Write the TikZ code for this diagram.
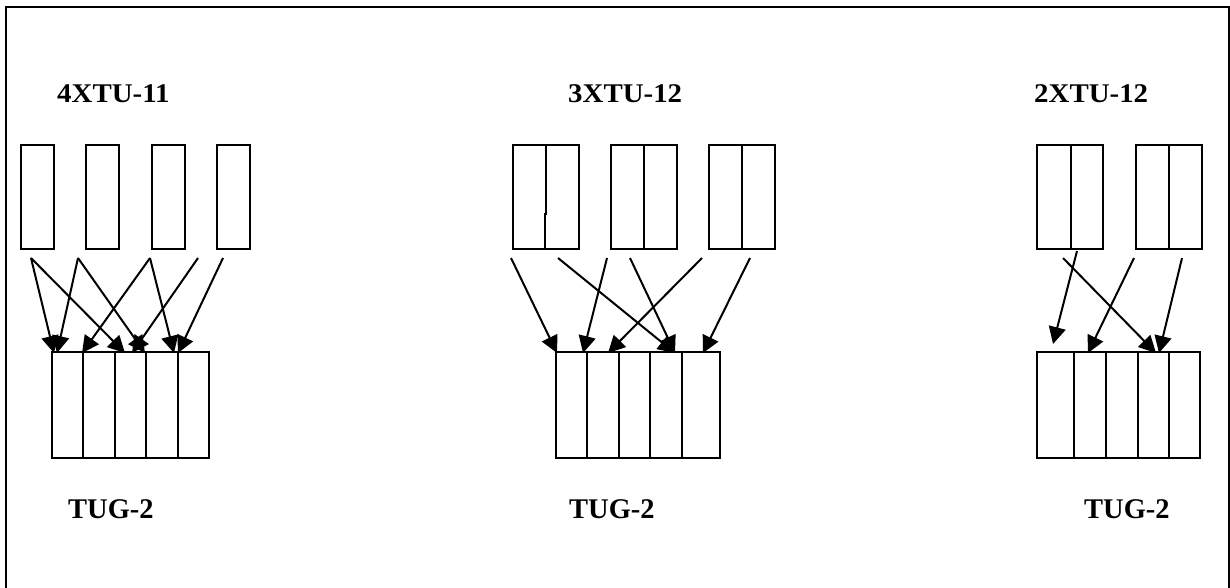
\documentclass[tikz,border=0pt]{standalone}
\usepackage{fontspec}
\setmainfont{Liberation Serif}
\usetikzlibrary{arrows.meta}
\begin{document}
\begin{tikzpicture}[x=1pt,y=-1pt,
  frameline/.style={line width=2.2pt},
  cellbox/.style={draw, line width=2pt, rectangle, inner sep=0pt, outer sep=0pt, anchor=north west},
  divider/.style={line width=2pt},
  conn/.style={line width=2pt, -{Triangle[length=17pt,width=17pt]}},
  toplbl/.style={font=\fontsize{27}{30}\selectfont\bfseries, anchor=base west, inner sep=0pt, xscale=1.07},
  botlbl/.style={font=\fontsize{28.5}{31}\selectfont\bfseries, anchor=base west, inner sep=0pt}]
\useasboundingbox (0,0) rectangle (1230,587);
% frame (open at the bottom)
\draw[frameline] (6,588) -- (6,7) -- (1229,7) -- (1229,588);

% labels
\node[toplbl] (l1) at (57,102) {4XTU-11};
\node[toplbl] (l2) at (568,102) {3XTU-12};
\node[toplbl] (l3) at (1034,102) {2XTU-12};
\node[botlbl] (b1) at (68,518) {TUG-2};
\node[botlbl] (b2) at (569,518) {TUG-2};
\node[botlbl] (b3) at (1084,518) {TUG-2};

% ---------- group 1 ----------
\node[cellbox, minimum width=33pt, minimum height=104pt] (a1) at (21,145) {};
\node[cellbox, minimum width=33pt, minimum height=104pt] (a2) at (86,145) {};
\node[cellbox, minimum width=33pt, minimum height=104pt] (a3) at (152,145) {};
\node[cellbox, minimum width=33pt, minimum height=104pt] (a4) at (217,145) {};
\node[cellbox, minimum width=157pt, minimum height=106pt] (t1) at (52,352) {};
\foreach \x in {83,115,146,178} \draw[divider] (\x,352) -- (\x,458);

\coordinate (p1) at (31,258);
\coordinate (p2) at (78,258);
\coordinate (p3) at (150,258);
\coordinate (p4) at (198,258);
\coordinate (p5) at (223,258);
\coordinate (q1) at (54,353);
\coordinate (q2) at (57,353);
\coordinate (q3) at (82,353);
\coordinate (q4) at (125,353);
\coordinate (q5) at (132,353);
\coordinate (q6) at (145,353);
\coordinate (q7) at (174,353);
\coordinate (q8) at (178,353);
\draw[conn] (p1) -- (q1);
\draw[conn] (p1) -- (q4);
\draw[conn] (p2) -- (q2);
\draw[conn] (p2) -- (q6);
\draw[conn] (p3) -- (q3);
\draw[conn] (p3) -- (q7);
\draw[conn] (p4) -- (q5);
\draw[conn] (p5) -- (q8);

% ---------- group 2 ----------
\node[cellbox, minimum width=66pt, minimum height=104pt] (c1) at (513,145) {};
\node[cellbox, minimum width=66pt, minimum height=104pt] (c2) at (611,145) {};
\node[cellbox, minimum width=66pt, minimum height=104pt] (c3) at (709,145) {};
\draw[divider] (546,145) -- (546,214) -- (544.5,214) -- (544.5,249);
\draw[divider] (c2.north) -- (c2.south);
\draw[divider] (c3.north) -- (c3.south);
\node[cellbox, minimum width=164pt, minimum height=106pt] (t2) at (556,352) {};
\foreach \x in {587,619,650,682} \draw[divider] (\x,352) -- (\x,458);

\coordinate (r1) at (511,258);
\coordinate (r2) at (558,258);
\coordinate (r3) at (607,258);
\coordinate (r4) at (630,258);
\coordinate (r5) at (702,258);
\coordinate (r6) at (750,258);
\coordinate (u1) at (557,353);
\coordinate (u2) at (583,353);
\coordinate (u3) at (608,353);
\coordinate (u4) at (675,353);
\coordinate (u5) at (703,353);
\draw[conn] (r1) -- (u1);
\draw[conn] (r2) -- (u4);
\draw[conn] (r3) -- (u2);
\draw[conn] (r4) -- (u4);
\draw[conn] (r5) -- (u3);
\draw[conn] (r6) -- (u5);

% ---------- group 3 ----------
\node[cellbox, minimum width=66pt, minimum height=104pt] (d1) at (1037,145) {};
\node[cellbox, minimum width=66pt, minimum height=104pt] (d2) at (1136,145) {};
\draw[divider] (1071,145) -- (1071,249);
\draw[divider] (d2.north) -- (d2.south);
\node[cellbox, minimum width=163pt, minimum height=106pt] (t3) at (1037,352) {};
\foreach \x in {1074,1106,1138,1169} \draw[divider] (\x,352) -- (\x,458);

\coordinate (s1) at (1077,251);
\coordinate (s2) at (1063,258);
\coordinate (s3) at (1134,258);
\coordinate (s4) at (1182,258);
\coordinate (v1) at (1053,344);
\coordinate (v2) at (1088,353);
\coordinate (v3) at (1156,353);
\coordinate (v4) at (1159,353);
\draw[conn] (s1) -- (v1);
\draw[conn] (s2) -- (v3);
\draw[conn] (s3) -- (v2);
\draw[conn] (s4) -- (v4);
\end{tikzpicture}
\end{document}
